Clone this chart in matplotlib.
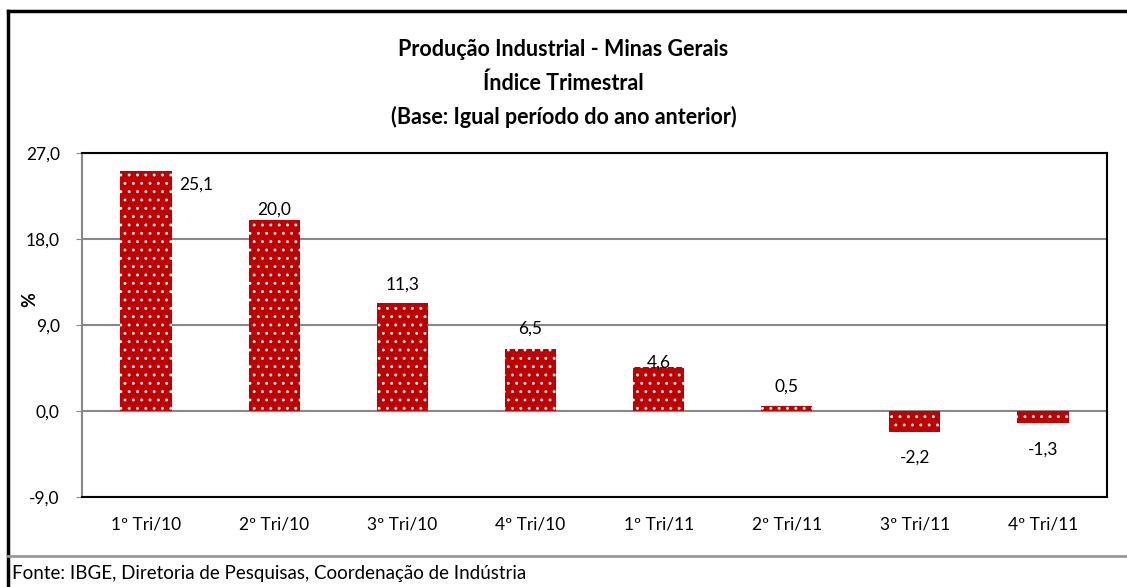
import matplotlib.pyplot as plt
from matplotlib.lines import Line2D

categories = ["1º Tri/10", "2º Tri/10", "3º Tri/10", "4º Tri/10",
              "1º Tri/11", "2º Tri/11", "3º Tri/11", "4º Tri/11"]
values = [25.1, 20.0, 11.3, 6.5, 4.6, 0.5, -2.2, -1.3]
yticks = [-9, 0, 9, 18, 27]

# manual label placement (dx in categories, y in data units), as in the source
label_pos = [(0.39, 23.7), (0, 21.1), (0, 13.2), (0, 8.6),
             (0, 5.1), (0, 2.6), (0, -4.9), (0, -4.0)]

plt.rcParams["font.family"] = ["Lato", "DejaVu Sans"]
plt.rcParams["hatch.linewidth"] = 0.9

fig = plt.figure(figsize=(11.27, 5.87), dpi=100)
ax = fig.add_axes([82 / 1127, 1 - 497 / 587, 1025 / 1127, 344 / 587])

x = range(len(categories))
ax.bar(x, values, width=0.4, color="#C00000", edgecolor="white",
       hatch="..", linewidth=0, zorder=3)

for i, (v, (dx, ly)) in enumerate(zip(values, label_pos)):
    ax.text(i + dx, ly, f"{v:.1f}".replace(".", ","), ha="center", va="center",
            fontsize=12.5, color="black", zorder=4)

ax.set_xlim(-0.5, len(categories) - 0.5)
ax.set_ylim(-9, 27)
ax.set_yticks(yticks)
ax.set_yticklabels([f"{t:.1f}".replace(".", ",") for t in yticks], fontsize=12.5)
ax.set_xticks(list(x))
ax.set_xticklabels(categories, fontsize=12.5)
ax.tick_params(axis="x", length=0, pad=14)
ax.tick_params(axis="y", length=4, color="#888888", pad=12)
ax.yaxis.grid(True, color="#888888", linewidth=1.5, zorder=1)
ax.set_axisbelow(True)
for side in ["top", "right", "bottom"]:
    ax.spines[side].set_color("black")
    ax.spines[side].set_linewidth(1.5)
ax.spines["left"].set_color("#888888")
ax.spines["left"].set_linewidth(1.5)
ax.set_ylabel("%", fontsize=13, fontweight="bold", va="center")
ax.yaxis.set_label_coords(-52 / 1025, 197 / 344)

title_lines = ["Produção Industrial - Minas Gerais", "Índice Trimestral",
               "(Base: Igual período do ano anterior)"]
for ypix, line in zip([50, 83, 117], title_lines):
    fig.text(0.5, 1 - ypix / 587, line, ha="center", va="center",
             fontsize=15.5, fontweight="bold")

# outer chart frame and footer
fig.add_artist(Line2D([8 / 1127, 1], [1 - 11 / 587] * 2, color="black", lw=2.5))
fig.add_artist(Line2D([8 / 1127] * 2, [1 - 11 / 587, 0], color="black", lw=2.5))
fig.add_artist(Line2D([8 / 1127, 1], [1 - 556 / 587] * 2, color="#999999", lw=2))
fig.text(12 / 1127, 1 - 574 / 587,
         "Fonte: IBGE, Diretoria de Pesquisas, Coordenação de Indústria",
         ha="left", va="center", fontsize=13.5)

fig.savefig("out.png", dpi=100)
